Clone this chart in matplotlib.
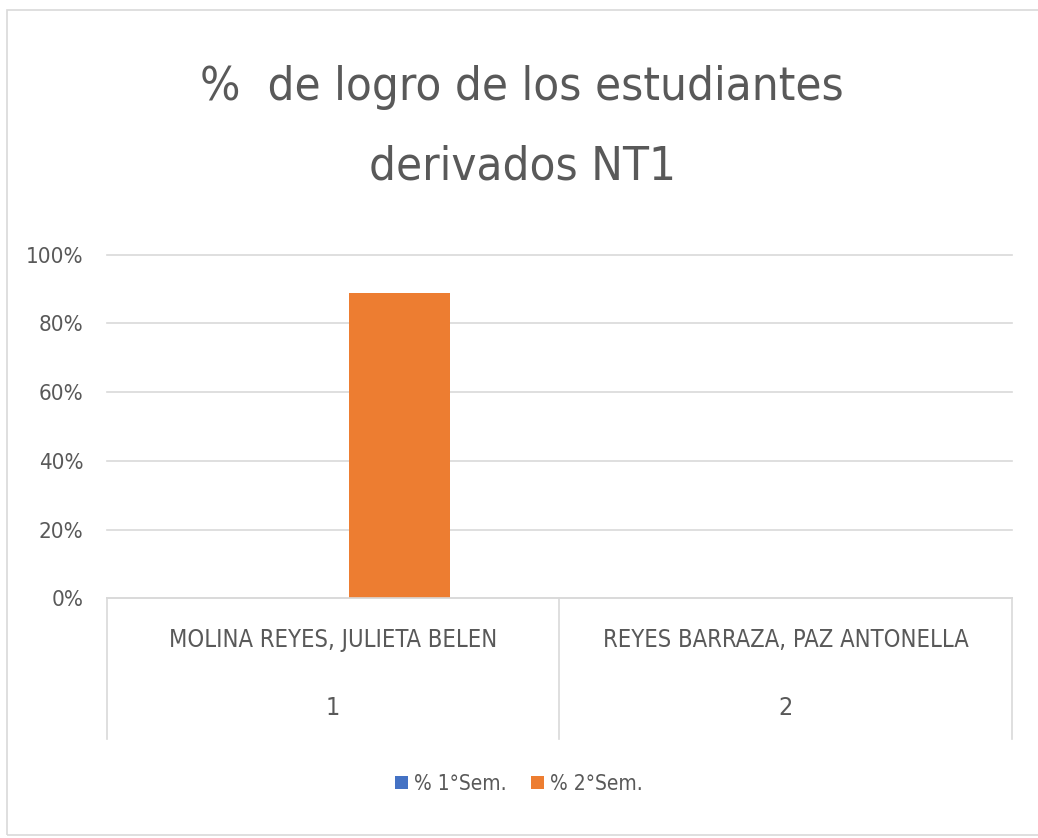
import numpy as np
import matplotlib
matplotlib.use("Agg")
import matplotlib.pyplot as plt
from matplotlib.patches import Rectangle

# data
nombres = ["MOLINA REYES, JULIETA BELEN", "REYES BARRAZA, PAZ ANTONELLA"]
numeros = ["1", "2"]
sem1 = [0.0, 0.0]
sem2 = [0.89, 0.0]
series = ["% 1°Sem.", "% 2°Sem."]
colores = ["#4472C4", "#ED7D31"]

plt.rcParams['font.family'] = ['Liberation Sans Narrow', 'DejaVu Sans']
plt.rcParams['font.stretch'] = 'condensed'
gris = "#595959"
linea = "#D9D9D9"

fig = plt.figure(figsize=(10.38, 8.38), dpi=100)
fig.patches.append(Rectangle((0.007, 0.003), 1.2, 0.985, transform=fig.transFigure,
                             fill=False, edgecolor=linea, lw=1.2))
ax = fig.add_axes([0.103, 0.286, 0.872, 0.410])

x = np.arange(len(nombres))
w = 0.222
off = 0.147
ax.bar(x - off, sem1, w, color=colores[0], label=series[0])
ax.bar(x + off, sem2, w, color=colores[1], label=series[1])

ax.set_xlim(-0.5, len(nombres) - 0.5)
ax.set_ylim(0, 1)
ax.set_yticks(np.arange(0, 1.01, 0.2))
ax.set_yticklabels([f"{int(round(v*100))}%" for v in np.arange(0, 1.01, 0.2)],
                   color=gris, fontsize=16)
ax.tick_params(axis='y', length=0, pad=17)
ax.set_xticks([])
ax.yaxis.grid(True, color=linea, lw=1.2)
for gl in ax.get_ygridlines():
    gl.set_clip_on(False)
ax.set_axisbelow(True)
for s in ['top', 'right', 'left']:
    ax.spines[s].set_visible(False)
ax.spines['bottom'].set_color(linea)
ax.spines['bottom'].set_linewidth(1.2)

# two-level category axis
tr = ax.get_xaxis_transform()
for b in np.arange(-0.5, len(nombres), 1.0):
    ax.plot([b, b], [0, -0.41], color=linea, lw=1.2, transform=tr, clip_on=False)
for i in x:
    ax.text(i, -0.122, nombres[i], transform=tr, ha='center', va='center',
            color=gris, fontsize=17)
    ax.text(i, -0.32, numeros[i], transform=tr, ha='center', va='center',
            color=gris, fontsize=18)

fig.text(0.503, 0.848, "%  de logro de los estudiantes\nderivados NT1", ha='center',
         va='center', color=gris, fontsize=34, linespacing=2.0)

fig.legend(loc='center', bbox_to_anchor=(0.5, 0.065), ncol=2, frameon=False,
           fontsize=15, labelcolor=gris, handlelength=0.6, handleheight=0.6,
           handletextpad=0.3, columnspacing=1.2)

fig.savefig("out.png", dpi=100)
